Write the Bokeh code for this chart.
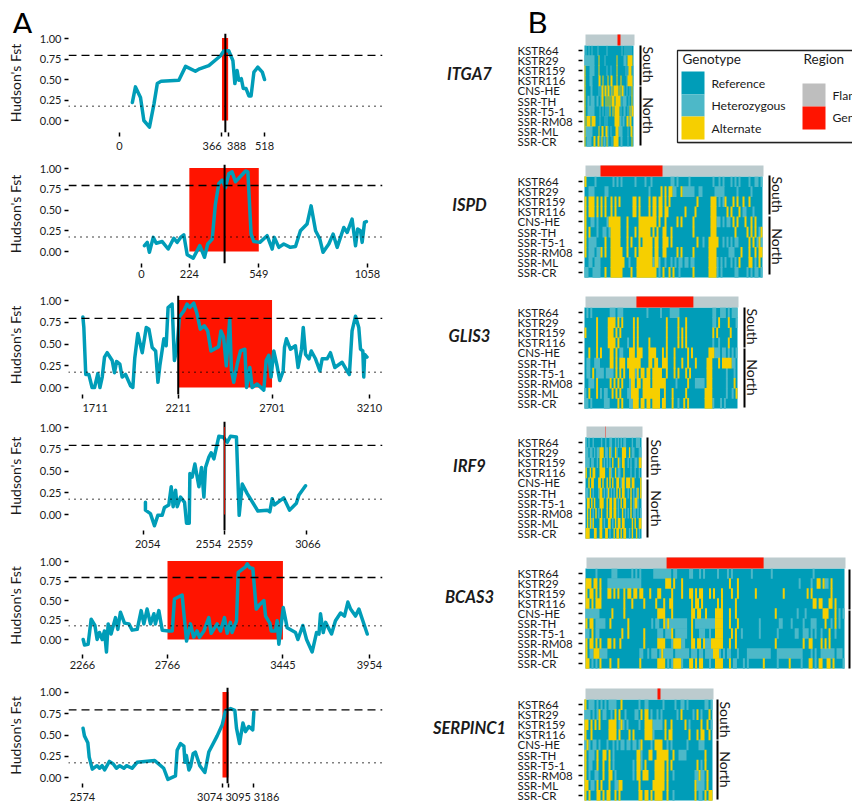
from math import pi
from bokeh.plotting import figure
from bokeh.layouts import column, row
from bokeh.models import FixedTicker, Range1d
from bokeh.core.properties import value
from bokeh.embed import file_html
from bokeh.resources import INLINE

FONT = "Lato"
TEAL, HET, ALT = "#009DB8", "#4DB8C8", "#F6CF00"
FLANK_BAR, FLANK_KEY, RED = "#BCCBCE", "#BEBEBE", "#FF1400"
INK = "#1a1a1a"
NBSP = "\u00a0"

# ---------- Panel A data (gene coordinate, Hudson's Fst) ----------
itga7_x = [46,57,75,87,107,123,135,149,212,236,271,286,319,361,373,390,405,412,420,426,435,442,452,462,470,480,494,510,518]
itga7_y = [.22,.41,.28,0,-.08,.2,.45,.48,.49,.66,.60,.63,.67,.79,.85,.85,.73,.45,.61,.49,.51,.39,.39,.30,.30,.59,.65,.59,.50]
ispd_x = [14,27,37,55,69,97,125,151,167,183,198,214,242,273,295,310,331,346,362,378,393,409,424,440,487,498,513,526,554,588,612,622,643,666,697,721,744,775,794,815,835,850,877,897,916,947,963,986,1002,1012,1025,1033,1044,1053]
ispd_y = [.07,.11,-.01,.17,.10,.12,.03,.16,.11,.17,.2,-.04,-.08,.07,-.07,.09,.15,.57,.82,.86,.77,.94,.96,.84,.97,.96,.21,.12,.11,.19,.03,.17,.05,.09,.05,.06,.25,.33,.55,.25,.15,-.01,.09,.21,.05,.29,.23,.39,.07,.27,.25,.11,.35,.36]
glis3_x = [1713,1718,1728,1744,1761,1774,1791,1802,1814,1826,1840,1866,1878,1889,1906,1918,1936,1962,1974,1984,2000,2023,2044,2058,2075,2093,2105,2115,2136,2148,2158,2179,2191,2205,2217,2240,2257,2271,2292,2309,2326,2347,2365,2382,2422,2434,2448,2462,2480,2489,2501,2519,2536,2559,2568,2585,2597,2623,2658,2670,2684,2696,2710,2727,2741,2759,2766,2776,2797,2823,2837,2855,2864,2876,2894,2906,2928,2951,2963,2989,3006,3029,3067,3093,3105,3119,3137,3154,3163,3175,3180,3185,3197]
glis3_y = [.81,.69,.15,.15,0,0,.16,0,.12,.35,.40,.31,.17,.30,.27,.12,.15,.02,0,.34,.62,.40,.69,.67,.46,.42,.06,.25,.56,.48,.92,.96,.31,.46,.81,.88,.96,.92,.97,.85,.67,.71,.65,.42,.47,.65,.58,.25,.79,.19,.06,.27,.42,.44,0,.23,0,.04,-.03,.31,.37,.12,.42,.25,.08,.19,.46,.56,.44,.48,.23,.44,.69,.38,.33,.42,.33,.19,.33,.33,.40,.23,.29,.19,.15,.65,.82,.69,.44,.42,.12,.38,.35]
irf9_x = [2066,2066,2097,2122,2143,2170,2184,2211,2226,2238,2253,2263,2284,2309,2321,2338,2342,2356,2373,2398,2414,2429,2439,2460,2474,2491,2522,2549,2574,2594,2631,2648,2667,2698,2764,2822,2838,2853,2867,2925,2961,3003,3018,3060]
irf9_y = [.14,.05,.01,-.13,-.01,-.01,.08,.11,.32,.09,.28,.09,.2,.14,-.1,-.1,.47,.43,.58,.32,.54,.2,.54,.66,.71,.64,.9,.89,.83,.9,.89,-.01,.35,.24,.04,.05,.03,.18,.11,.19,.05,.13,.22,.33]
bcas3_x = [2270,2278,2299,2317,2339,2352,2366,2382,2395,2407,2417,2434,2460,2474,2489,2513,2539,2558,2588,2611,2627,2646,2666,2686,2695,2715,2735,2774,2794,2807,2852,2878,2901,2920,2940,2954,2980,3009,3023,3058,3078,3101,3117,3136,3146,3172,3182,3225,3235,3250,3268,3288,3309,3333,3343,3368,3376,3401,3411,3421,3447,3470,3519,3533,3562,3584,3617,3643,3657,3666,3682,3696,3731,3754,3784,3807,3827,3843,3872,3892,3941]
bcas3_y = [0,-.07,-.06,.26,.18,0,.09,0,.11,-.16,.2,.07,.28,.13,.35,.21,.2,.12,.13,.37,.2,.39,.2,.33,.2,.37,.12,.11,.11,.52,.57,-.02,.2,.03,.11,.03,.11,.28,.08,.2,.11,.28,.08,.22,.09,.24,.86,.93,.97,.92,.91,.39,.45,.5,.3,.21,.11,.11,.24,-.06,.41,.15,.09,0,.18,0,-.16,.09,.07,.33,.09,.22,.07,.24,.34,.3,.48,.39,.3,.39,.07]
serpinc1_x = [2576,2581,2593,2598,2609,2626,2635,2644,2653,2670,2684,2695,2707,2722,2731,2751,2769,2832,2864,2879,2906,2912,2924,2936,2940,2945,2954,2960,2969,2977,2993,3011,3025,3055,3073,3085,3103,3118,3124,3135,3147,3156,3168,3182,3186]
serpinc1_y = [.58,.49,.41,.24,.1,.14,.11,.14,.09,.19,.16,.11,.14,.11,.14,.11,.18,.2,.11,-.02,.02,.32,.4,.37,.18,.26,.09,.13,.28,.3,.14,.06,.3,.49,.62,.79,.81,.79,.58,.4,.64,.54,.6,.56,.77]

# ticks, gene span, black marker
itga7_ticks, itga7_span, itga7_mark = [0,366,388,518], (366,388), 378
ispd_ticks, ispd_span, ispd_mark = [0,224,549,1058], (224,549), 389
glis3_ticks, glis3_span, glis3_mark = [1711,2211,2701,3210], (2211,2701), 2211
irf9_ticks, irf9_span, irf9_mark = [2054,2554,2559,3066], (2554,2559), 2557
bcas3_ticks, bcas3_span, bcas3_mark = [2266,2766,3445,3954], (2766,3445), None
serpinc1_ticks, serpinc1_span, serpinc1_mark = [2574,3074,3095,3186], (3074,3095), 3092
FST_HIGH, FST_LOW = 0.795, 0.175

# ---------- Panel B data: '.'=reference, h=heterozygous, A=alternate ----------
samples = ["KSTR64","KSTR29","KSTR159","KSTR116","CNS-HE","SSR-TH","SSR-T5-1","SSR-RM08","SSR-ML","SSR-CR"]
itga7_rows = [
 ".h..h..h.. ...h...... ..h....... .......h.. h.h.h.h..",
 "hhhhhhhhhh ....A..... h......... ..A......h hh.AAAAA.",
 "A....hhhhh ....A..... ..h...h... ..A....... .h.hAAA.h",
 "A....hhh.. ....AA..A. ...A..AA.. ..A...A... ..hAAAAAh",
 "A.....hh.. ....h.hAA. AA.AA.hA.A AAAA.A.AAh ..h..h.A.",
 "A..hh.hhhh ..hh..hAA. .A.A.A.AAA .AAAAAh.hh hh..h..A.",
 "A..hhhhhhh .....h..h. .h.h.A..A. AAAAA.h..h h..h.AhAA",
 "A.AAAA.AAA A....h.... h.h....... AAAAAhh.hh ..AAhAA..",
 "Ahhhhhhh.. ....A..AA. .AAh..h... .AAAhhhh.. ...h..AA.",
 "A.hhhhh..A A..AA.hA.h h.Ah...h.A AAAA..hh.. ...h...A.",
]
ispd_rows = [
 "A....h.... ....h.h.h. .....h.... h..h...... ...hh.h... ..h....... ....h..h.h ...h.h.h.. ..h..hh.h",
 "..hhh..... hh........ .......... ..h.....A. A.AAhh..Ah hhhhh..hh. .....hhhhh ......h... ...h.....",
 "A.AAA.A.A. A..A.A.A.. ....AA.A.. ..A.AA.AA. A.A....... ......A... ...AAA.h.h A...A.A..A ..A......",
 "A.AAA.A.A. A..A.A.... ....AA.A.. ..A.AA.AA. AA........ A....A.... ...AAA.... .A.A...A.h h...h....",
 "A..hh.h... .hAAAAAA.. .A.....AAA AAAAAA.A.. A.....A.A. ....A..... ...AAAhh.h .hh.A.A... A..A.A...",
 "A.A...h..h h.hAAAAA.. .A...A.AAA AAA.A.A..A A..A...... ....A..... ...AAA.... .....A.... .A.A.A.hA",
 "A.hhhh.... A..AAAAA.. .A.A...A.A AAAA.AA..A AA.A...... ......A..h ..AAAAA..h .h.h.hh... ..A.A.hAh",
 "A.hhh.hhA. A..AAAAAA. .A...A.AAA AAAA.AA..A A.....A.A. ....A..... ..AAAA.... ..hhh...A. ..A..A.AA",
 "..hh.hhh.. ...AAAAAAA ..h...AAAA AAAAhAAh.. h..h.h.hh. hh.hh..... ..AAAAh.h. h..h.h.A.. ..AA.h.A.",
 "hh..hhhh.. A..AAAAAA. ...A..AAAA AAAAAA.h.A ..A.A..h.. ....A..... ..AAAAh.h. .....hh... .h.h.hh.h",
]
glis3_rows = [
 ".h.h...... ...hhh.hhh .......... ..h......h ....hhhhh. .......... ......hh.. hhh.h.hhh",
 "......A... ..AAAA.A.A .....A.A.. .......... ..A.....A. ..A....... ......hh.A ....A...h",
 "A.....A... ..AAA.A.A. .....A.A.. .......... ..A.....A. A.A....... ......A.A. .....A...",
 "......A... ..AAAA.A.. ..h..A.A.. ...A...... ..A.....A. A.A....... ......h..h ....A....",
 "..A...A.A. ...AA.A.hh ...AAA.AAA ...AAAA... A.A...A... ...A.A.... ....AAAhhh .hh.h.h.h",
 ".hh..hhh.. ...AA.A.AA A.AAAAAAA. ...AA.AA.. AAA...A... A..A...A.. ...AAA...A .AAAAAhh.",
 ".hh.A.hhhh .hhhh.A.A. A..AAAhA.A A.AA.AAAAA ..A...A.A. ..A.A..... ...AAA.... ...h...h.",
 "..hhh.A... ...A.A.A.A ...hAA.AA. AAAA.AAAAA AA.....h.. ...A...hhh hh.AAA.... ...h...A.",
 "h.A...A.h. hh..A.A.A. ..hhAAAA.. AAAAAAAAA. .A...A.... ..A....... ..AAAA.... ...h..h.A",
 "hh.h...... hhh....A.A ...hhAAA.A A.AA.AAAA. AA...A..h. .A.A...... ..AAAAh... h.h......",
]
irf9_rows = [
 "h.h..h.... .h..h..hh. .h.h.h.hh. ...h..hhh.",
 "hh.hh.h.hh AAA.hh.Ah. .Ah...AAA. .A.hh...hh",
 "hhh.hh..h. AA.h.h.h.A ...Ah.AA.. h.h..hh.AA",
 "A..A.AA... AAAA...Ah. .A.hh..A.. ..h..h..h.",
 "..A.AA...A A.A..A.A.A ..AA.hAA.A AA.AA....A",
 "hh.A.h...h AA.h.hA.h. h.A.A.AA.. h.A.h.hA.A",
 ".AA.A.A... AAA..A.AA. AA.h.A.AA. ..A.hAAh..",
 ".A.A.h.A.h .A...A.AA. AA.h..A.h. h.A.hh.h.h",
 ".A.AhA.... AA.h..AA.h .A.AA.AA.. ...A.A..AA",
 "AAA...AA.. AA..AA.h.. A.AA.A.AA. .h.A..A.h.",
]
bcas3_rows = [
 ".....h.... ...hhh.... ...h.h.h.. ....hhhhhh hhh.hh.... ..hh...h.h ......h... .h.h...... ...h...... ...h...... .......... ....h..... ..........",
 "AAA.AA.A.. .hhhhhhhhh hhhhhhhh.. .......... AAA.A...A. .......... .......... ..A...A... .......... .......... .......h.. ...h..AA.A hh.A......",
 "A.AA.A.A.. .AA.A.A..A .AA.AA.AA. ..A...AA.. ...A....A. ..AA.A.AA. ..A.A...A. ...A..A... .....A.... .........A .......... .A.A...... ...A......",
 "AA.A.AAA.. .........A ...A.....A .....A...A ..AA...... ...A.AA.A. ......A.A. .....A.... .......... .......... .......... ....AA.AA. ..AA.A....",
 "hhhhhhh... ...A.....A .......... ......AAAA ...A...... ...AA.AA.. A....AAAA. ..A..A.... .......... .....A.... ......h... h........A AA...A.h.h",
 "A.AA.hhhhh ..A....... .A........ ...h.hh..A hAhhhhhhhh h..A.hhhhh hhhhhAAAA. ..A...A... .......h.. .......hh. ...h.....h ...hhh.... A..h.A.h..",
 "hh.A.hh... ........A. .A.......A ......hhh. hhhA.hhhhh h..A...hhh ..h..AAAA. ...A.A..h. .......h.. ......h... .....hh..h hh.h.h..h. ..A..h....",
 "A.AA.A.A.. .AA.A..A.. .........A ......AAAA ...hAAAAhh ...AA.AA.A hhhAAAAAA. ..A..A.... .......... .....A.... .........A ..AA....A. A.A.......",
 "A.hhAAAhhh h......... .......hh. .h.hhh.hAh hhhh.hhhhh hh.hhh.hh. hhhhAAAh.h .hh...h... .hhhhhhhhh hhh...hhhh hhhhhhhhh. ...h.h..hh hhhhh.hhh.",
 "AA.h.h.A.. ..A...A... .......A.. ......AAAA .h.hAAAAh. ..AA.A.AA. ..h..AAAA. ..A.hh...h .h.......A ......h... ..A.....h. ..AA.h.AA. .AA.A....h",
]
serpinc1_rows = [
 "A.hhh.h.h. h.hhhh..A. .......h.. hh.......h .....h..hh .h........ hh.h",
 "hhh.h.hA.h h..h.A.A.. h....hh.A. AA.h..h.h. ......h.A. ....h.A.h. ..A.",
 "AA.A.A.A.. ..AAAA.hAh .h.....h.. AAAAhhhhh. A..A...... A.h.....A. .A.h",
 "A..A...... ..AAAA.A.. ..A.A..... AAAAh..... A.AA...... ..A...A.AA ..A.",
 "hAh.hh.h.. .h..h.h.hh .hh.hh.hA. ...h.AAAA. .h.h...... .h.....hhh ....",
 "A.hhh.A..A A.A.h..... ......AAh. ..AA..AAAA AA..A..hhh h......... A...",
 "A.hh..A..A ..A.h..... ....h.AAh. A....AAAAA .A.A...... ......A.h. A...",
 "A.h..hh..A ..AA.h.... ....h.AA.A AA...AAAAA .A..h..... .....hhAhh .A..",
 "AA.hh.A.A. ..A..hhAA. .......A.. ....AAAAAA .A........ .....Ahhhh .A..",
 "A.A...AA.A .AA..A.A.. .......AA. AA.A.AAAA. .A..h..... .....A.hh. A.AA",
]

# gene region on the annotation bar, in heatmap columns
itga7_gene, ispd_gene, glis3_gene = (32, 35), (7.5, 38.5), (26.3, 55.7)
irf9_gene, bcas3_gene, serpinc1_gene = (13.6, 13.9), (40.2, 88.9), (36, 37.5)
legend_genotype = ["Reference", "Heterozygous", "Alternate"]
legend_region = ["Flanking", "Gene"]

# ---------- panel A layout: frame px on the page ----------
L, R_ = 68, 382
LEFT_W = 425
panels = [
 (itga7_x, itga7_y, itga7_ticks, itga7_span, itga7_mark, 119, .28, 33, 33, 132, 38, 120, {366:-10, 388:9}),
 (ispd_x, ispd_y, ispd_ticks, ispd_span, ispd_mark, 141, .2136, 158, 164, 263, 168, 251, {}),
 (glis3_x, glis3_y, glis3_ticks, glis3_span, glis3_mark, 82, .19146, 289, 295, 394, 300, 387, {1711:12}),
 (irf9_x, irf9_y, irf9_ticks, irf9_span, irf9_mark, 143, .16107, 420, 421, 530, 427, 514, {2054:4, 2554:-16, 2559:15, 3066:2}),
 (bcas3_x, bcas3_y, bcas3_ticks, bcas3_span, bcas3_mark, 82, .17, 555, 556, 654, 561, 639, {}),
 (serpinc1_x, serpinc1_y, serpinc1_ticks, serpinc1_span, serpinc1_mark, 82, .28, 680, 687, 785, 692, 779, {3074:-13, 3095:10, 3186:13}),
]
ENDS = [158, 289, 420, 555, 680, 805]

def shifted(t, shift):
    """Tick label moved sideways with padding, since the reference nudges crowded labels apart."""
    n = round(abs(shift) / 1.4)
    return NBSP * n + str(t) if shift > 0 else str(t) + NBSP * n

def blank(width, height, xr, yr):
    p = figure(width=width, height=height, x_range=xr, y_range=yr, output_backend="svg",
               toolbar_location=None, min_border=0)
    p.outline_line_color = None
    p.grid.visible = False
    p.axis.visible = False
    return p

def line_panel(idx, xs, ys, ticks, span, mark, px0, s, start, top, bottom, y1px, y0px, shift):
    end = ENDS[idx]
    py = y0px - y1px
    x_range = Range1d(ticks[0] - (px0 - L) / s, ticks[0] + (R_ - px0) / s)
    y_range = Range1d(-(bottom - y0px) / py, 1 + (y1px - top) / py)
    p = figure(width=LEFT_W, height=end - start, x_range=x_range, y_range=y_range,
               output_backend="svg", toolbar_location=None,
               min_border_left=L, min_border_right=LEFT_W - R_,
               min_border_top=top - start, min_border_bottom=end - bottom)
    p.outline_line_color = None
    p.grid.visible = False
    for ax in (p.xaxis[0], p.yaxis[0]):
        ax.axis_line_color = None
        ax.major_tick_in = 0
        ax.major_tick_out = 4
        ax.minor_tick_line_color = None
        ax.major_tick_line_width = 1.5
        ax.major_tick_line_color = "black"
        ax.major_label_text_font = FONT
        ax.major_label_text_font_size = "11px"
        ax.major_label_text_color = INK
    p.yaxis[0].ticker = FixedTicker(ticks=[0, .25, .5, .75, 1])
    p.yaxis[0].major_label_overrides = {0: "0.00", .25: "0.25", .5: "0.50", .75: "0.75", 1: "1.00"}
    p.yaxis[0].major_label_standoff = 3
    p.yaxis[0].axis_label = "Hudson's Fst"
    p.yaxis[0].axis_label_text_font = FONT
    p.yaxis[0].axis_label_text_font_style = "normal"
    p.yaxis[0].axis_label_text_font_size = "14px"
    p.yaxis[0].axis_label_text_color = INK
    p.yaxis[0].axis_label_standoff = 13
    p.xaxis[0].ticker = FixedTicker(ticks=ticks)
    p.xaxis[0].major_label_standoff = 2
    p.xaxis[0].major_label_overrides = {t: (shifted(t, shift[t]) if t in shift else str(t)) for t in ticks}

    p.quad(left=[span[0]], right=[span[1]], bottom=[0], top=[1.005], fill_color=RED, line_color=None)
    p.line(xs, ys, line_color=TEAL, line_width=3.5, line_join="round", line_cap="round")
    p.line([x_range.start, x_range.end], [FST_HIGH] * 2, line_color="black", line_width=1.3, line_dash="8 5")
    p.line([x_range.start, x_range.end], [FST_LOW] * 2, line_color="black", line_width=1.5, line_dash="1 5")
    if mark is not None:
        p.line([mark, mark], [y_range.start, y_range.end], line_color="black", line_width=2)
    if span[1] - span[0] < 10:  # a gene this short shows as a red sliver over the marker
        p.quad(left=[span[0]], right=[span[1]], bottom=[0], top=[1.005], fill_color=RED, line_color=None)
    return p

header_a = blank(LEFT_W, 33, Range1d(0, LEFT_W), Range1d(33, 0))
header_a.text([22], [22], text=["A"], text_align="center", text_baseline="middle", text_font=value(FONT),
              text_font_size="31px", text_color="black")
left_col = column(row(header_a, spacing=0), *[line_panel(i, *args) for i, args in enumerate(panels)], spacing=0)

# ---------- panel B ----------
RIGHT_X = LEFT_W
AX_X = 582
LBL_W = 578 - RIGHT_X
heats = [
 ("ITGA7", itga7_rows, itga7_gene, 584, 633, 34, 45, 146, 640, 648, (45,85,64), (86,145,115), 33, 160, 670),
 ("ISPD", ispd_rows, ispd_gene, 584, 762, 165, 176, 277, 769, 777, (175,214,194), (216,274,246), 160, 292, 852),
 ("GLIS3", glis3_rows, glis3_gene, 584, 737, 296, 307, 408, 744, 752, (307,347,326), (348,407,377), 292, 420, 852),
 ("IRF9", irf9_rows, irf9_gene, 585, 641, 426, 437, 538, 647, 656, (437,477,457), (479,537,508), 420, 553, 852),
 ("BCAS3", bcas3_rows, bcas3_gene, 585, 844, 557, 568, 668, 849, None, (569,609,0), (610,668,0), 553, 684, 852),
 ("SERPINC1", serpinc1_rows, serpinc1_gene, 584, 712, 688, 699, 800, 717, 725, (699,739,719), (740,799,769), 684, 805, 852),
]

def heat_panel(idx, gene, rows, span, hl, hr, bar_top, ht, hb, bx, tx, south, north, start, end, fr):
    rows = [r.replace(" ", "") for r in rows]
    n = max(len(r) for r in rows)
    cw = (hr - hl) / n
    rh = (hb - ht) / 10
    ftop, fbot = bar_top - 1, hb + 1
    to_x = lambda px: (px - hl) / cw
    to_y = lambda py: 9.5 - (py - ht) / rh
    x_range = Range1d(to_x(AX_X), to_x(fr))
    y_range = Range1d(to_y(fbot), to_y(ftop))
    p = figure(width=fr - 578, height=end - start, x_range=x_range, y_range=y_range,
               output_backend="svg", toolbar_location=None,
               min_border_left=AX_X - 578, min_border_right=0,
               min_border_top=ftop - start, min_border_bottom=end - fbot)
    p.outline_line_color = None
    p.grid.visible = False
    p.xaxis.visible = False
    ax = p.yaxis[0]
    ax.ticker = FixedTicker(ticks=list(range(10)))
    ax.axis_line_color = None
    ax.minor_tick_line_color = None
    ax.major_tick_in = 0
    ax.major_tick_out = 4
    ax.major_tick_line_width = 1.5
    ax.major_tick_line_color = "black"
    ax.major_label_text_font_size = "0px"
    ax.major_label_standoff = 0
    ax.major_label_text_color = None

    p.quad(left=[0], right=[n], bottom=[-.5], top=[9.5], fill_color=TEAL, line_color=None)
    for code, color in (("h", HET), ("A", ALT)):
        l, r_, b, t = [], [], [], []
        for ri, row_s in enumerate(rows):
            row_s = row_s.ljust(n, ".")
            y = 9 - ri
            j = 0
            while j < n:
                k = j
                while k < n and row_s[k] == row_s[j]:
                    k += 1
                if row_s[j] == code:
                    l.append(j); r_.append(k); b.append(y - .53); t.append(y + .53)
                j = k
        p.quad(left=l, right=r_, bottom=b, top=t, fill_color=color, line_color=None)

    bar_shift = 1 / cw
    p.quad(left=[bar_shift], right=[n + bar_shift], bottom=[9.5], top=[to_y(bar_top)], fill_color=FLANK_BAR, line_color=None)
    p.quad(left=[span[0] + bar_shift], right=[span[1] + bar_shift], bottom=[9.5], top=[to_y(bar_top)],
           fill_color=RED, line_color=None)

    for y0, y1, c in (south, north):
        p.line([to_x(bx)] * 2, [to_y(y0), to_y(y1)], line_color="black", line_width=2)
    if tx is not None:
        p.text([to_x(tx)] * 2, [to_y(south[2]), to_y(north[2])], text=["South", "North"], angle=-pi / 2,
               text_align="center", text_baseline="middle", text_font=value(FONT),
               text_font_size="14px", text_color=INK)

    # row names and gene name live in a frame of their own to the left, on the same y range
    lab = figure(width=LBL_W, height=end - start, x_range=Range1d(RIGHT_X, 578), y_range=y_range,
                 output_backend="svg", toolbar_location=None, min_border_left=0, min_border_right=0,
                 min_border_top=ftop - start, min_border_bottom=end - fbot)
    lab.outline_line_color = None
    lab.grid.visible = False
    lab.axis.visible = False
    lab.text([517] * 10, list(range(9, -1, -1)), text=samples, text_align="left", text_baseline="middle",
             text_font=value(FONT), text_font_size="11.5px", text_color=INK)
    lab.text([469], [to_y(ht + 28)], text=[gene], text_align="center", text_baseline="middle",
             text_font=value(FONT), text_font_size="16.5px", text_font_style="bold italic", text_color=INK)
    return row(lab, p, spacing=0)

def legend_panel():
    p = blank(852 - 670, 160, Range1d(670, 852), Range1d(160, 0))
    p.quad(left=[678], right=[900], top=[51], bottom=[143], fill_color="#888888", line_color=None, fill_alpha=.5)
    p.quad(left=[677], right=[900], top=[50], bottom=[142], fill_color="white", line_color="#222222", line_width=1.3)
    p.quad(left=[681] * 3, right=[704] * 3, top=[71, 94, 116], bottom=[94, 116, 139], fill_color=[TEAL, HET, ALT], line_color=None)
    p.quad(left=[802] * 2, right=[825] * 2, top=[83, 106], bottom=[106, 129], fill_color=[FLANK_KEY, RED], line_color=None)
    p.text([682, 803], [58.5, 58.5], text=["Genotype", "Region"], text_baseline="middle", text_font=value(FONT),
           text_font_size="13.5px", text_color=INK)
    p.text([711] * 3, [83, 105, 128], text=legend_genotype, text_baseline="middle", text_font=value(FONT),
           text_font_size="12.2px", text_color=INK)
    p.text([832] * 2, [95, 117], text=legend_region, text_baseline="middle", text_font=value(FONT),
           text_font_size="12.2px", text_color=INK)
    return p

header_b = blank(670 - RIGHT_X, 33, Range1d(RIGHT_X, 670), Range1d(33, 0))
header_b.text([537], [21], text=["B"], text_align="center", text_baseline="middle", text_font=value(FONT),
              text_font_size="31px", text_color="black")
rows_b = [heat_panel(i, *args) for i, args in enumerate(heats)]
right_col = column(row(column(header_b, rows_b[0], spacing=0), legend_panel(), spacing=0), *rows_b[1:], spacing=0)
page = row(left_col, right_col, spacing=0)
open("out.html", "w").write(file_html(page, INLINE))
